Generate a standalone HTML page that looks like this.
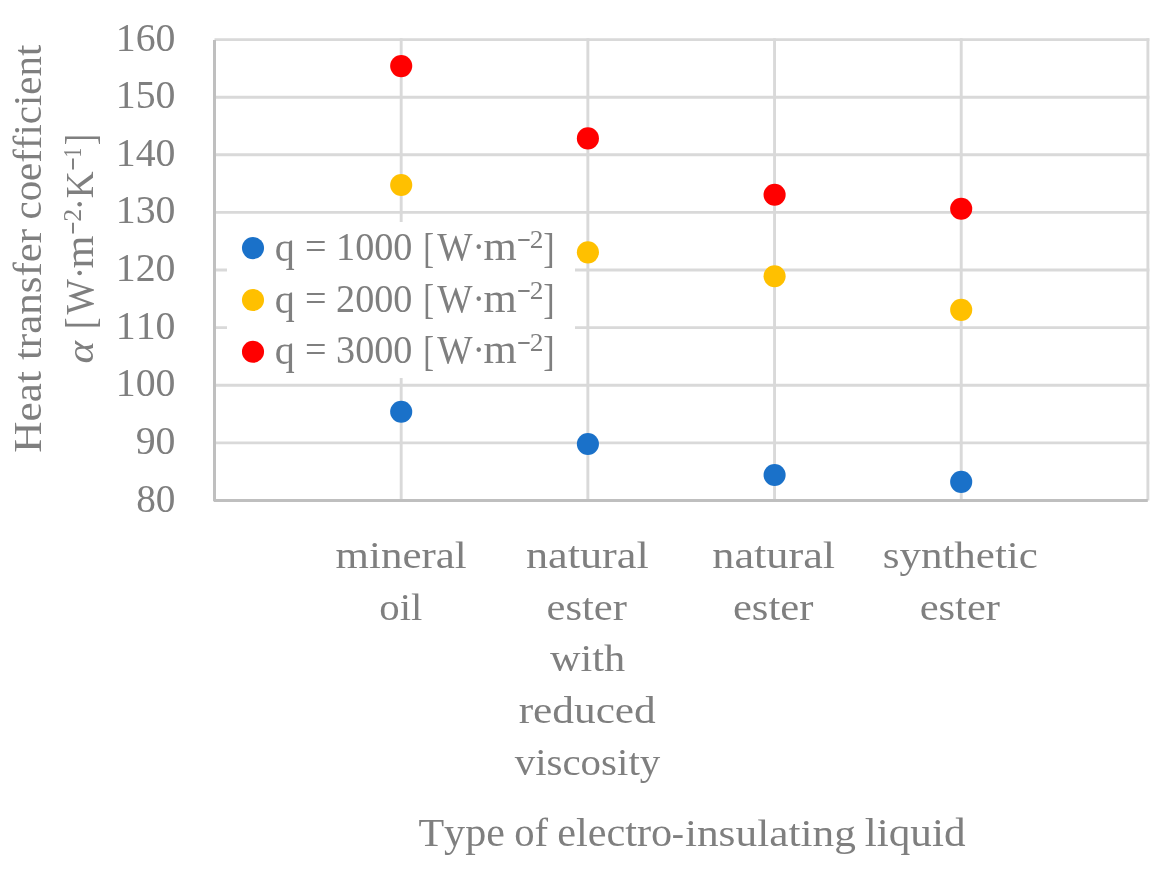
<!DOCTYPE html>
<html><head><meta charset="utf-8"><title>Heat transfer coefficient chart</title>
<style>
html,body{margin:0;padding:0;background:#ffffff;}
body{width:1165px;height:872px;overflow:hidden;}
svg{display:block;position:absolute;left:0;top:0;will-change:transform;}
text{font-family:"Liberation Serif",serif;fill:#7f7f7f;font-kerning:none;font-variant-ligatures:none;white-space:pre;}
</style></head><body>
<svg width="1165" height="872" viewBox="0 0 1165 872">
<rect x="0" y="0" width="1165" height="872" fill="#ffffff"/>

<g stroke="#d9d9d9" stroke-width="2.9" fill="none">
<line x1="214.5" y1="39.60" x2="1149.35" y2="39.60"/>
<line x1="214.5" y1="97.21" x2="1149.35" y2="97.21"/>
<line x1="214.5" y1="154.81" x2="1149.35" y2="154.81"/>
<line x1="214.5" y1="212.42" x2="1149.35" y2="212.42"/>
<line x1="214.5" y1="270.02" x2="1149.35" y2="270.02"/>
<line x1="214.5" y1="327.63" x2="1149.35" y2="327.63"/>
<line x1="214.5" y1="385.24" x2="1149.35" y2="385.24"/>
<line x1="214.5" y1="442.84" x2="1149.35" y2="442.84"/>
<line x1="401.18" y1="38.15" x2="401.18" y2="500.45"/>
<line x1="587.86" y1="38.15" x2="587.86" y2="500.45"/>
<line x1="774.54" y1="38.15" x2="774.54" y2="500.45"/>
<line x1="961.22" y1="38.15" x2="961.22" y2="500.45"/>
<line x1="1147.90" y1="38.15" x2="1147.90" y2="500.45"/>
</g>
<rect x="227" y="222" width="348" height="156" fill="#ffffff"/>
<g stroke="#bfbfbf" stroke-width="3" fill="none">
<line x1="214.5" y1="40" x2="214.5" y2="501.2"/>
<line x1="213.9" y1="500.45" x2="1147.8" y2="500.45"/>
</g>
<g fill="#1a71c9">
<circle cx="401.2" cy="411.7" r="11.05"/>
<circle cx="587.9" cy="444.0" r="11.05"/>
<circle cx="774.6" cy="475.05" r="11.05"/>
<circle cx="961.2" cy="481.9" r="11.05"/>
</g>
<g fill="#ffc000">
<circle cx="401.2" cy="185.0" r="11.05"/>
<circle cx="587.9" cy="252.35" r="11.05"/>
<circle cx="774.6" cy="276.2" r="11.05"/>
<circle cx="961.2" cy="309.85" r="11.05"/>
</g>
<g fill="#ff0000">
<circle cx="401.2" cy="66.1" r="11.05"/>
<circle cx="587.9" cy="138.4" r="11.05"/>
<circle cx="774.6" cy="194.8" r="11.05"/>
<circle cx="961.2" cy="208.8" r="11.05"/>
</g>
<circle cx="253" cy="248.1" r="11.05" fill="#1a71c9"/>
<circle cx="253" cy="300.0" r="11.05" fill="#ffc000"/>
<circle cx="253" cy="351.8" r="11.05" fill="#ff0000"/>
<text transform="translate(115.80,51.40) scale(1.0156,1)" font-size="39.2">160</text>
<text transform="translate(115.80,108.21) scale(1.0156,1)" font-size="39.2">150</text>
<text transform="translate(115.80,166.41) scale(1.0156,1)" font-size="39.2">140</text>
<text transform="translate(115.80,223.22) scale(1.0156,1)" font-size="39.2">130</text>
<text transform="translate(115.80,281.22) scale(1.0156,1)" font-size="39.2">120</text>
<text transform="translate(115.80,338.98) scale(1.0156,1)" font-size="39.2">110</text>
<text transform="translate(115.80,396.09) scale(1.0156,1)" font-size="39.2">100</text>
<text transform="translate(135.72,454.44) scale(1.0153,1)" font-size="39.2">90</text>
<text transform="translate(136.20,512.30) scale(1.0024,1)" font-size="39.2">80</text>
<text transform="translate(335.60,568.30) scale(1.1213,1.0)" font-size="38.3">mineral</text>
<text transform="translate(379.30,619.85) scale(1.0653,1.0)" font-size="38.3">oil</text>
<text transform="translate(525.88,568.30) scale(1.1558,1.0)" font-size="38.3">natural</text>
<text transform="translate(546.54,619.85) scale(1.1126,1.0)" font-size="38.3">ester</text>
<text transform="translate(550.01,671.40) scale(1.1059,1.0)" font-size="38.3">with</text>
<text transform="translate(518.63,722.95) scale(1.1320,1.0)" font-size="38.3">reduced</text>
<text transform="translate(514.65,774.50) scale(1.0696,1.0)" font-size="38.3">viscosity</text>
<text transform="translate(712.28,568.30) scale(1.1558,1.0)" font-size="38.3">natural</text>
<text transform="translate(732.94,619.85) scale(1.1126,1.0)" font-size="38.3">ester</text>
<text transform="translate(882.64,568.30) scale(1.1230,1.0)" font-size="38.3">synthetic</text>
<text transform="translate(919.64,619.85) scale(1.1126,1.0)" font-size="38.3">ester</text>
<text transform="translate(418.44,845.80) scale(1.0784,1)" font-size="39">Type</text>
<text transform="translate(514.25,845.80) scale(1.0419,1)" font-size="39">of</text>
<text transform="translate(557.15,845.80) scale(1.0846,1)" font-size="39">electro</text>
<text transform="translate(671.84,845.80) scale(0.9377,1)" font-size="39">-</text>
<text transform="translate(684.89,845.80) scale(1.1119,1)" font-size="39">insulating</text>
<text transform="translate(864.74,845.80) scale(1.1075,1)" font-size="39">liquid</text>
<text transform="translate(274.65,261.10) scale(1.0296,1.1)" font-size="39">q</text>
<text transform="translate(305.00,260.20) scale(0.9791,1)" font-size="39">= 1000</text>
<text transform="translate(423.20,261.80) scale(0.8291,1.055)" font-size="39">[</text>
<text transform="translate(437.26,260.20) scale(0.9590,1.03)" font-size="39">W·</text>
<text transform="translate(483.50,260.20) scale(1.0966,1)" font-size="39">m</text>
<text transform="translate(516.98,252.68) scale(0.9999,1.6)" font-size="24.5">−</text>
<text transform="translate(529.79,247.80) scale(1.1200,1)" font-size="24.5">2</text>
<text transform="translate(543.37,261.80) scale(0.8752,1.055)" font-size="39">]</text>
<text transform="translate(274.65,312.50) scale(1.0296,1.1)" font-size="39">q</text>
<text transform="translate(305.00,311.60) scale(0.9791,1)" font-size="39">= 2000</text>
<text transform="translate(423.20,313.20) scale(0.8291,1.055)" font-size="39">[</text>
<text transform="translate(437.26,311.60) scale(0.9590,1.03)" font-size="39">W·</text>
<text transform="translate(483.50,311.60) scale(1.0966,1)" font-size="39">m</text>
<text transform="translate(516.98,304.08) scale(0.9999,1.6)" font-size="24.5">−</text>
<text transform="translate(529.79,299.20) scale(1.1200,1)" font-size="24.5">2</text>
<text transform="translate(543.37,313.20) scale(0.8752,1.055)" font-size="39">]</text>
<text transform="translate(274.65,364.00) scale(1.0296,1.1)" font-size="39">q</text>
<text transform="translate(305.00,363.10) scale(0.9791,1)" font-size="39">= 3000</text>
<text transform="translate(423.20,364.70) scale(0.8291,1.055)" font-size="39">[</text>
<text transform="translate(437.26,363.10) scale(0.9590,1.03)" font-size="39">W·</text>
<text transform="translate(483.50,363.10) scale(1.0966,1)" font-size="39">m</text>
<text transform="translate(516.98,355.58) scale(0.9999,1.6)" font-size="24.5">−</text>
<text transform="translate(529.79,350.70) scale(1.1200,1)" font-size="24.5">2</text>
<text transform="translate(543.37,364.70) scale(0.8752,1.055)" font-size="39">]</text>
<text transform="translate(40.70,452.65) rotate(-90) scale(1.1084,1)" font-size="39">Heat</text>
<text transform="translate(40.70,360.12) rotate(-90) scale(1.1025,1)" font-size="39">transfer</text>
<text transform="translate(40.70,219.46) rotate(-90) scale(1.0484,1)" font-size="39">coefficient</text>
<text transform="translate(92.80,363.57) rotate(-90) scale(1.0974,1)" font-size="39" font-style="italic">α</text>
<text transform="translate(94.40,328.93) rotate(-90) scale(0.8752,1.055)" font-size="39">[</text>
<text transform="translate(92.80,314.44) rotate(-90) scale(0.9568,1.03)" font-size="39">W·</text>
<text transform="translate(92.80,268.49) rotate(-90) scale(1.0828,1)" font-size="39">m</text>
<text transform="translate(86.08,234.76) rotate(-90) scale(0.9473,1.6)" font-size="24.5">−</text>
<text transform="translate(81.20,221.64) rotate(-90) scale(1.0589,1)" font-size="24.5">2</text>
<text transform="translate(92.80,210.61) rotate(-90) scale(0.9573,1.03)" font-size="39">·K</text>
<text transform="translate(86.08,170.79) rotate(-90) scale(0.9736,1.6)" font-size="24.5">−</text>
<text transform="translate(81.20,157.52) rotate(-90) scale(0.8000,1)" font-size="24.5">1</text>
<text transform="translate(94.40,145.33) rotate(-90) scale(0.8752,1.055)" font-size="39">]</text>
</svg>
</body></html>
